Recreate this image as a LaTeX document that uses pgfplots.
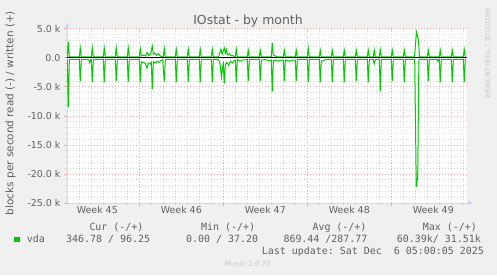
\documentclass[border=0pt]{standalone}
\usepackage{pgfplots}
\pgfplotsset{compat=1.18}
\usepackage{fontspec}
\setmainfont{DejaVu Sans}
\setmonofont{DejaVu Sans Mono}
\usetikzlibrary{arrows.meta}
\definecolor{munfont}{HTML}{606060}
\definecolor{munlight}{HTML}{C8C8C8}
\definecolor{munaxis}{HTML}{CFD6F8}
\definecolor{mungreen}{HTML}{00CC00}
\definecolor{munback}{HTML}{F0F0F0}
\definecolor{mgridc}{HTML}{E8A8A8}
\definecolor{gridc}{HTML}{D6D6D6}
\newcommand{\monof}{\fontsize{10}{12}\ttfamily}
\begin{document}
\begin{tikzpicture}[x=1bp,y=1bp]
\fill[munback] (0,0) rectangle (497,275);
\begin{axis}[
  at={(67bp,72bp)}, anchor=south west,
  scale only axis, width=400bp, height=174.3bp,
  xmin=-0.025, xmax=33.31, ymin=-25, ymax=5,
  axis background/.style={fill=white},
  axis x line*=bottom, axis y line*=left,
  axis line style={munaxis, line width=1bp, -{Triangle[length=5bp,width=5bp]}, shorten >=-6bp},
  xtick={6,13,20,27}, xticklabels={},
  extra x ticks={2.5,9.5,16.5,23.5,30.5},
  extra x tick labels={Week 45,Week 46,Week 47,Week 48,Week 49},
  extra x tick style={grid=none, major tick length=0pt},
  minor xtick={0,1,2,3,4,5,7,8,9,10,11,12,14,15,16,17,18,19,21,22,23,24,25,26,28,29,30,31,32,33},
  ytick={-25,-20,-15,-10,-5,0,5},
  yticklabels={-25.0 k,-20.0 k,-15.0 k,-10.0 k,-5.0 k,0.0,5.0 k},
  minor ytick={-24,-23,-22,-21,-19,-18,-17,-16,-14,-13,-12,-11,-9,-8,-7,-6,-4,-3,-2,-1,1,2,3,4},
  grid=both,
  major grid style={mgridc, dash pattern=on 1bp off 2bp, line width=0.7bp},
  minor grid style={gridc, dash pattern=on 1bp off 2bp, line width=0.7bp},
  tick align=outside, major tick length=3bp, minor tick length=2bp,
  major tick style={mgridc, line width=0.7bp},
  minor tick style={gridc, line width=0.7bp},
  tick label style={font=\fontsize{9.5}{11}\selectfont, text=munfont},
  clip=true,
]
\addplot[mungreen, line width=1bp] coordinates {
(0.00,-0.3)(0.08,-8.5)(0.17,-0.3)
(1.00,-0.3)(1.08,-4.0)(1.17,-0.3)
(1.78,-0.3)(1.87,-0.8)(1.95,-0.3)
(2.00,-0.3)(2.08,-4.2)(2.17,-0.3)
(3.00,-0.3)(3.08,-4.2)(3.17,-0.3)
(4.00,-0.3)(4.08,-4.0)(4.17,-0.3)
(5.00,-0.3)(5.08,-4.1)(5.17,-0.3)
(6.00,-0.3)(6.08,-4.2)(6.17,-0.7)(6.35,-0.8)(6.50,-1.0)(6.64,-1.8)(6.75,-0.9)(6.90,-1.1)(7.00,-0.8)(7.08,-5.4)(7.17,-0.7)(7.35,-0.9)(7.50,-0.6)(7.65,-0.8)(7.80,-0.5)(7.95,-0.3)
(8.08,-4.1)(8.17,-0.3)
(9.00,-0.3)(9.08,-4.2)(9.17,-0.3)
(10.00,-0.3)(10.08,-4.1)(10.17,-0.3)
(11.00,-0.3)(11.08,-4.2)(11.17,-0.3)
(12.00,-0.3)(12.08,-4.2)(12.17,-0.3)
(12.60,-0.3)(12.72,-1.0)(12.85,-3.3)(12.95,-1.4)(13.00,-1.0)(13.08,-4.4)(13.17,-1.2)(13.30,-0.8)(13.45,-1.3)(13.60,-0.6)(13.75,-0.9)(13.90,-0.5)(14.00,-0.4)(14.08,-4.2)(14.17,-0.3)(14.40,-0.6)(14.60,-0.4)
(15.00,-0.3)(15.08,-4.0)(15.17,-0.3)
(16.00,-0.3)(16.08,-4.0)(16.17,-0.4)(16.50,-0.3)(16.80,-0.5)
(17.00,-0.4)(17.08,-5.8)(17.17,-0.5)(17.40,-0.4)(17.60,-0.6)(17.80,-0.4)
(18.00,-0.4)(18.08,-4.0)(18.17,-0.4)(18.50,-0.6)(18.80,-0.4)
(19.00,-0.4)(19.08,-4.0)(19.17,-0.3)
(20.00,-0.3)(20.08,-4.2)(20.17,-0.3)
(21.00,-0.3)(21.08,-4.2)(21.17,-0.5)(21.30,-0.6)(21.50,-0.3)
(22.00,-0.3)(22.08,-4.2)(22.17,-0.3)
(23.00,-0.3)(23.08,-4.2)(23.17,-0.3)
(24.00,-0.3)(24.08,-4.0)(24.17,-0.3)
(25.00,-0.3)(25.08,-4.2)(25.17,-0.3)
(25.50,-0.3)(25.58,-1.0)(25.67,-0.3)
(26.00,-0.3)(26.08,-5.7)(26.17,-0.3)
(27.00,-0.3)(27.08,-4.0)(27.17,-0.3)
(28.00,-0.3)(28.08,-4.2)(28.17,-0.3)
(28.95,-0.3)(29.08,-22.2)(29.20,-20.5)(29.30,-0.3)
(30.00,-0.3)(30.08,-4.0)(30.17,-0.3)
(30.80,-0.3)(30.87,-0.6)(30.95,-0.3)
(31.00,-0.3)(31.08,-4.2)(31.17,-0.3)
(32.00,-0.3)(32.08,-4.2)(32.17,-0.3)
(33.00,-0.3)(33.08,-4.2)(33.17,-0.3)(33.22,-0.3)
};
\addplot[mungreen, line width=1bp] coordinates {
(0.00,0.15)(0.08,2.7)(0.17,0.15)
(1.00,0.15)(1.08,1.7)(1.17,0.15)
(2.00,0.15)(2.08,1.7)(2.17,0.15)
(3.00,0.15)(3.08,1.7)(3.17,0.15)
(4.00,0.15)(4.08,1.7)(4.17,0.15)
(5.00,0.15)(5.08,1.7)(5.17,0.15)
(6.00,0.15)(6.08,1.6)(6.17,0.3)(6.35,0.5)(6.50,0.3)(6.65,0.9)(6.80,0.4)(6.95,0.7)(7.08,2.0)(7.17,0.6)(7.30,0.8)(7.45,0.4)(7.60,0.7)(7.75,0.3)(7.90,0.15)
(8.00,0.15)(8.08,1.6)(8.17,0.15)
(9.00,0.15)(9.08,1.5)(9.17,0.15)
(10.00,0.15)(10.08,1.5)(10.17,0.15)
(11.00,0.15)(11.08,1.5)(11.17,0.15)
(12.00,0.15)(12.08,1.5)(12.17,0.15)
(12.60,0.15)(12.72,0.9)(12.80,1.5)(12.90,0.6)(13.00,1.2)(13.08,1.7)(13.17,0.8)(13.25,1.4)(13.35,0.5)(13.50,0.7)(13.65,0.3)(13.80,0.4)(13.92,0.15)
(14.00,0.15)(14.08,1.5)(14.17,0.15)
(15.00,0.15)(15.08,1.3)(15.17,0.15)
(16.00,0.15)(16.08,1.3)(16.17,0.15)
(17.00,0.15)(17.08,2.5)(17.17,0.5)(17.35,0.3)(17.50,0.15)
(18.00,0.15)(18.08,1.3)(18.17,0.15)
(19.00,0.15)(19.08,1.3)(19.17,0.15)
(20.00,0.15)(20.08,1.7)(20.17,0.15)
(21.00,0.15)(21.08,1.3)(21.17,0.15)
(22.00,0.15)(22.08,1.3)(22.17,0.15)
(23.00,0.15)(23.08,1.3)(23.17,0.15)
(24.00,0.15)(24.08,1.3)(24.17,0.15)
(25.00,0.15)(25.08,1.3)(25.17,0.15)
(25.50,0.15)(25.58,1.3)(25.67,0.15)
(26.00,0.15)(26.08,1.4)(26.17,0.15)
(27.00,0.15)(27.08,1.3)(27.17,0.15)
(28.00,0.15)(28.08,1.3)(28.17,0.15)
(28.93,0.15)(29.10,4.4)(29.20,3.6)(29.27,2.9)(29.35,0.15)
(30.00,0.15)(30.08,1.3)(30.17,0.15)
(31.00,0.15)(31.08,1.3)(31.17,0.15)
(32.00,0.15)(32.08,1.3)(32.17,0.15)
(33.00,0.15)(33.08,1.4)(33.17,0.15)(33.22,0.15)
};
\addplot[black, line width=1bp] coordinates {(-0.025,0)(33.31,0)};
\end{axis}
\node[anchor=base, font=\fontsize{12.5}{14}\selectfont, text=munfont, inner sep=0] at (248,250.7) {IOstat - by month};
\node[rotate=90, font=\fontsize{10.5}{12}\selectfont, text=munfont, inner sep=0] at (10.5,162) {blocks per second read (-) / written (+)};
\node[rotate=-90, font=\fontsize{7}{8}\selectfont, text=munlight, inner sep=0] at (487.5,221.5) {RRDTOOL / TOBI OETIKER};
\node[anchor=base west, font=\monof, text=munfont, inner sep=0] at (89.3,44.3) {Cur (-/+)};
\node[anchor=base west, font=\monof, text=munfont, inner sep=0] at (201,44.3) {Min (-/+)};
\node[anchor=base west, font=\monof, text=munfont, inner sep=0] at (312.3,44.3) {Avg (-/+)};
\node[anchor=base west, font=\monof, text=munfont, inner sep=0] at (422.7,44.3) {Max (-/+)};
\fill[mungreen] (14,32.7) rectangle (20,38.3);
\node[anchor=base west, font=\monof, text=munfont, inner sep=0] at (26.7,32.3) {vda};
\node[anchor=base west, font=\monof, text=munfont, inner sep=0] at (66,32.3) {346.78 / 96.25};
\node[anchor=base west, font=\monof, text=munfont, inner sep=0] at (186,32.3) {0.00 / 37.20};
\node[anchor=base west, font=\monof, text=munfont, inner sep=0] at (283.3,32.3) {869.44 /287.77};
\node[anchor=base west, font=\monof, text=munfont, inner sep=0] at (396.7,32.3) {60.39k/ 31.51k};
\node[anchor=base west, font=\monof, text=munfont, inner sep=0] at (261.7,20.7) {Last update: Sat Dec\ \ 6 05:00:05 2025};
\node[anchor=base, font=\fontsize{7}{8}\selectfont, text=munlight, inner sep=0] at (247.8,8.3) {Munin 2.0.73};
\pgfresetboundingbox
\path (0,0) rectangle (497,275);
\end{tikzpicture}
\end{document}
